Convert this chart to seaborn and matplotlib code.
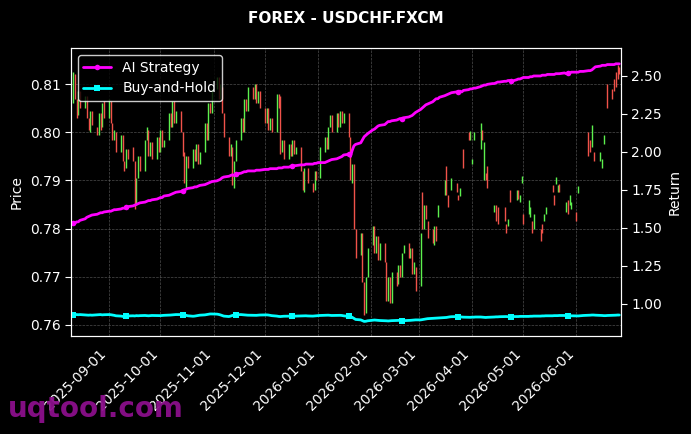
import numpy as np
import pandas as pd
import matplotlib
matplotlib.use('Agg')
import matplotlib.pyplot as plt
import matplotlib.dates as mdates
import seaborn as sns

nan = np.nan

# trading days (Mon-Fri), Aug 11 2025 .. Jun 26 2026
dates = pd.bdate_range('2025-08-11', '2026-06-26')

# daily candle open / close (NaN = no data)
opens = [
    0.8060, 0.8120, 0.8070, 0.8035, 0.8085,
    0.8050, 0.8075, 0.8030, 0.8000, 0.8045,
    0.8010, 0.7995, 0.8040, 0.8010, 0.8065,
    0.8030, 0.8065, 0.8020, 0.7985, 0.8000,
    0.7960, 0.7995, 0.7940, 0.7925, 0.7965,
    0.7970, 0.7940, 0.7850, 0.7905, 0.7950,
    0.7920, 0.7985, 0.8005, 0.7950, 0.7980,
    0.7945, 0.7990, 0.7960, 0.8005, 0.7970,
    0.7985, 0.8040, 0.8010, 0.8065, 0.8020,
    0.8045, 0.8000, 0.7960, 0.7885, 0.7950,
    0.7925, 0.7965, 0.7940, 0.7975, 0.7935,
    0.7960, 0.8020, 0.7985, 0.8060, 0.8040,
    0.8090, 0.8115, 0.8070, 0.8095, 0.8040,
    0.7990, 0.7950, 0.7970, 0.7885, 0.7940,
    0.7985, 0.8030, 0.8000, 0.8070, 0.8045,
    0.8095, 0.8070, 0.8100, 0.8060, 0.8085,
    0.8050, 0.8020, 0.8050, 0.8005, 0.8030,
    0.8000, 0.8080, 0.8075, 0.7960, 0.7985,
    0.7945, 0.7975, 0.7950, 0.7985, 0.7955,
    0.7970, 0.7920, 0.7875, nan, 0.7925,
    0.7895, 0.7880, 0.7920, nan, 0.7905,
    0.7960, 0.7990, 0.7965, 0.8010, 0.8035,
    0.8000, 0.8040, 0.8010, 0.8045, 0.8020,
    0.8040, 0.7990, 0.7895, 0.7935, 0.7800,
    0.7745, 0.7790, 0.7690, 0.7625, 0.7700,
    0.7765, 0.7805, 0.7750, 0.7785, 0.7735,
    0.7770, 0.7730, 0.7650, 0.7700, 0.7645,
    0.7710, 0.7685, 0.7725, 0.7700, 0.7750,
    0.7770, 0.7740, 0.7760, 0.7705, 0.7720,
    0.7680, 0.7875, 0.7800, 0.7850, 0.7815,
    0.7800, 0.7765, 0.7805, 0.7825, nan,
    0.7870, 0.7930, 0.7870, nan, 0.7880,
    0.7895, 0.7870, 0.7868, nan, 0.7965,
    0.8000, 0.7985, 0.7935, 0.7985, nan,
    0.7965, 0.8005, 0.7900, 0.7915, 0.7930,
    nan, 0.7835, 0.7850, 0.7845, nan,
    0.7845, 0.7810, 0.7805, 0.7880, nan,
    0.7860, 0.7880, 0.7855, 0.7895, 0.7830,
    0.7830, 0.7825, 0.7815, 0.7800, nan,
    0.7800, 0.7810, 0.7815, 0.7830, nan,
    0.7890, 0.7870, 0.7893, 0.7875, 0.7892,
    nan, 0.7835, 0.7860, 0.7850, 0.7840,
    0.7835, 0.7873, nan, nan, nan,
    0.8000, 0.7985, 0.7970, 0.7960, nan,
    0.7940, 0.7925, 0.7975, nan, 0.8100,
    0.8090, 0.8110, 0.8125, 0.8140, 0.8135,
]
closes = [
    0.8125, 0.8070, 0.8030, 0.8085, 0.8050,
    0.8075, 0.8030, 0.8005, 0.8045, 0.8015,
    0.7995, 0.8040, 0.8005, 0.8060, 0.8030,
    0.8070, 0.8020, 0.7985, 0.8005, 0.7960,
    0.7995, 0.7940, 0.7920, 0.7965, 0.7945,
    0.7940, 0.7840, 0.7905, 0.7950, 0.7920,
    0.7985, 0.8010, 0.7950, 0.7980, 0.7945,
    0.7990, 0.7960, 0.8005, 0.7970, 0.7985,
    0.8040, 0.8010, 0.8065, 0.8020, 0.8045,
    0.8000, 0.7950, 0.7895, 0.7950, 0.7925,
    0.7965, 0.7940, 0.7975, 0.7935, 0.7960,
    0.8020, 0.7985, 0.8060, 0.8040, 0.8090,
    0.8115, 0.8070, 0.8100, 0.8040, 0.7990,
    0.7950, 0.7975, 0.7890, 0.7940, 0.7985,
    0.8030, 0.8000, 0.8070, 0.8045, 0.8095,
    0.8070, 0.8100, 0.8060, 0.8085, 0.8050,
    0.8020, 0.8050, 0.8005, 0.8030, 0.8000,
    0.8080, 0.8050, 0.7955, 0.7985, 0.7945,
    0.7975, 0.7950, 0.7985, 0.7955, 0.7970,
    0.7920, 0.7880, 0.7925, nan, 0.7895,
    0.7875, 0.7920, 0.7900, nan, 0.7970,
    0.7990, 0.7965, 0.8010, 0.8035, 0.8000,
    0.8040, 0.8010, 0.8045, 0.8020, 0.8040,
    0.7990, 0.7900, 0.7935, 0.7800, 0.7740,
    0.7790, 0.7690, 0.7620, 0.7700, 0.7760,
    0.7805, 0.7750, 0.7785, 0.7735, 0.7770,
    0.7730, 0.7650, 0.7700, 0.7645, 0.7710,
    0.7680, 0.7725, 0.7700, 0.7750, 0.7765,
    0.7740, 0.7760, 0.7705, 0.7730, 0.7670,
    0.7790, 0.7800, 0.7850, 0.7820, 0.7780,
    0.7770, 0.7805, 0.7775, 0.7850, nan,
    0.7900, 0.7870, 0.7845, nan, 0.7905,
    0.7875, 0.7860, 0.7885, nan, 0.7925,
    0.7985, 0.8002, 0.7945, 0.8000, nan,
    0.8020, 0.7985, 0.7980, 0.7900, 0.7885,
    nan, 0.7850, 0.7815, 0.7810, nan,
    0.7815, 0.7790, 0.7820, 0.7855, nan,
    0.7880, 0.7862, 0.7870, 0.7910, 0.7810,
    0.7860, 0.7845, 0.7790, 0.7830, nan,
    0.7775, 0.7790, 0.7830, 0.7845, nan,
    0.7875, 0.7850, 0.7908, 0.7890, 0.7875,
    nan, 0.7855, 0.7830, 0.7870, 0.7855,
    0.7815, 0.7888, nan, nan, nan,
    0.7950, 0.7960, 0.8015, 0.7940, nan,
    0.7960, 0.7945, 0.7995, nan, 0.8050,
    0.8070, 0.8085, 0.8095, 0.8110, 0.8120,
]

# cumulative returns
ai_strategy = [
    1.53, 1.53, 1.54, 1.54, 1.55,
    1.56, 1.57, 1.575, 1.58, 1.585,
    1.59, 1.595, 1.60, 1.60, 1.605,
    1.61, 1.61, 1.615, 1.62, 1.62,
    1.625, 1.63, 1.63, 1.635, 1.64,
    1.645, 1.65, 1.655, 1.66, 1.665,
    1.67, 1.675, 1.68, 1.68, 1.685,
    1.69, 1.695, 1.70, 1.70, 1.71,
    1.715, 1.72, 1.725, 1.73, 1.735,
    1.74, 1.745, 1.75, 1.755, 1.76,
    1.765, 1.77, 1.77, 1.775, 1.78,
    1.785, 1.79, 1.795, 1.80, 1.805,
    1.81, 1.815, 1.82, 1.83, 1.835,
    1.84, 1.845, 1.85, 1.845, 1.855,
    1.86, 1.865, 1.87, 1.87, 1.875,
    1.875, 1.875, 1.88, 1.88, 1.88,
    1.885, 1.885, 1.885, 1.89, 1.89,
    1.89, 1.895, 1.895, 1.895, 1.90,
    1.90, 1.905, 1.905, 1.91, 1.91,
    1.915, 1.915, 1.915, 1.92, 1.92,
    1.92, 1.925, 1.925, 1.93, 1.93,
    1.93, 1.935, 1.94, 1.945, 1.95,
    1.955, 1.96, 1.965, 1.97, 1.98,
    1.985, 1.97, 2.01, 2.04, 2.05,
    2.06, 2.08, 2.10, 2.11, 2.12,
    2.145, 2.15, 2.16, 2.17, 2.175,
    2.18, 2.19, 2.20, 2.20, 2.205,
    2.21, 2.215, 2.22, 2.215, 2.225,
    2.23, 2.235, 2.24, 2.25, 2.26,
    2.28, 2.29, 2.30, 2.31, 2.315,
    2.33, 2.34, 2.35, 2.35, 2.36,
    2.37, 2.375, 2.38, 2.385, 2.39,
    2.395, 2.395, 2.40, 2.395, 2.405,
    2.41, 2.415, 2.415, 2.42, 2.42,
    2.43, 2.435, 2.44, 2.44, 2.445,
    2.45, 2.45, 2.455, 2.46, 2.46,
    2.465, 2.465, 2.47, 2.47, 2.465,
    2.475, 2.48, 2.48, 2.485, 2.49,
    2.49, 2.495, 2.495, 2.50, 2.50,
    2.50, 2.505, 2.505, 2.505, 2.51,
    2.51, 2.51, 2.515, 2.515, 2.515,
    2.52, 2.515, 2.52, 2.52, 2.525,
    2.525, 2.525, 2.53, 2.53, 2.53,
    2.535, 2.535, 2.54, 2.55, 2.56,
    2.565, 2.57, 2.57, 2.57, 2.575,
    2.575, 2.575, 2.58, 2.58, 2.58,
]
buy_and_hold = [
    0.930, 0.931, 0.930, 0.929, 0.930,
    0.928, 0.927, 0.926, 0.927, 0.926,
    0.928, 0.929, 0.930, 0.928, 0.929,
    0.930, 0.929, 0.927, 0.925, 0.922,
    0.920, 0.918, 0.917, 0.919, 0.921,
    0.922, 0.921, 0.923, 0.922, 0.923,
    0.924, 0.923, 0.922, 0.923, 0.924,
    0.923, 0.922, 0.923, 0.924, 0.925,
    0.926, 0.927, 0.928, 0.929, 0.930,
    0.930, 0.929, 0.927, 0.925, 0.922,
    0.919, 0.920, 0.922, 0.924, 0.926,
    0.928, 0.930, 0.932, 0.934, 0.934,
    0.933, 0.931, 0.928, 0.924, 0.920,
    0.917, 0.920, 0.924, 0.927, 0.929,
    0.930, 0.929, 0.928, 0.927, 0.926,
    0.925, 0.924, 0.925, 0.926, 0.927,
    0.928, 0.928, 0.927, 0.925, 0.923,
    0.920, 0.918, 0.917, 0.918, 0.919,
    0.920, 0.921, 0.920, 0.919, 0.920,
    0.921, 0.921, 0.922, 0.922, 0.921,
    0.920, 0.921, 0.922, 0.923, 0.924,
    0.925, 0.926, 0.926, 0.925, 0.924,
    0.925, 0.926, 0.925, 0.924, 0.922,
    0.918, 0.916, 0.912, 0.905, 0.898,
    0.895, 0.890, 0.885, 0.886, 0.889,
    0.893, 0.894, 0.893, 0.892, 0.891,
    0.890, 0.889, 0.888, 0.889, 0.890,
    0.891, 0.891, 0.892, 0.891, 0.890,
    0.891, 0.892, 0.893, 0.894, 0.895,
    0.895, 0.897, 0.899, 0.901, 0.903,
    0.905, 0.906, 0.907, 0.907, 0.908,
    0.909, 0.911, 0.913, 0.915, 0.916,
    0.917, 0.916, 0.915, 0.914, 0.913,
    0.912, 0.912, 0.913, 0.913, 0.914,
    0.914, 0.913, 0.912, 0.911, 0.912,
    0.913, 0.914, 0.915, 0.915, 0.916,
    0.917, 0.917, 0.916, 0.916, 0.917,
    0.917, 0.917, 0.918, 0.918, 0.918,
    0.918, 0.919, 0.919, 0.920, 0.920,
    0.920, 0.921, 0.921, 0.922, 0.922,
    0.922, 0.923, 0.923, 0.923, 0.924,
    0.924, 0.923, 0.923, 0.922, 0.922,
    0.921, 0.921, 0.922, 0.923, 0.924,
    0.925, 0.926, 0.927, 0.927, 0.926,
    0.925, 0.924, 0.923, 0.923, 0.924,
    0.925, 0.926, 0.926, 0.927, 0.927,
]

candles = pd.DataFrame({'date': dates, 'open': opens, 'close': closes}).dropna()
returns = pd.DataFrame({'date': dates, 'ai': ai_strategy, 'bh': buy_and_hold})

plt.style.use('dark_background')
sns.set_style('dark', {'axes.facecolor': 'black', 'figure.facecolor': 'black',
                       'text.color': 'white', 'axes.labelcolor': 'white',
                       'xtick.color': 'white', 'ytick.color': 'white',
                       'axes.edgecolor': 'white'})
plt.rcParams['font.family'] = ['DejaVu Sans']

fig = plt.figure(figsize=(6.91, 4.34), dpi=100)
ax = fig.add_axes([0.1027, 0.2258, 0.796, 0.6636])

# candles drawn as thin bodies
up = candles['close'] >= candles['open']
ax.vlines(candles.loc[up, 'date'], candles.loc[up, 'open'], candles.loc[up, 'close'],
          colors='#5cf04e', linewidth=1.0)
ax.vlines(candles.loc[~up, 'date'], candles.loc[~up, 'open'], candles.loc[~up, 'close'],
          colors='#f0524a', linewidth=1.0)
ax.set_ylim(0.7577, 0.8175)
ax.set_ylabel('Price', color='white')
ax.grid(True, color='gray', linestyle='--', linewidth=0.5, alpha=0.6)

ax2 = ax.twinx()
sns.lineplot(data=returns, x='date', y='ai', ax=ax2, color='#ff00ff', linewidth=2,
             marker='o', markersize=4, markeredgewidth=0, markevery=23, label='AI Strategy')
sns.lineplot(data=returns, x='date', y='bh', ax=ax2, color='#00ffff', linewidth=2,
             marker='s', markersize=4, markeredgewidth=0, markevery=23, label='Buy-and-Hold')
ax2.set_ylim(0.789, 2.684)
ax2.set_ylabel('Return', color='white')
ax2.set_xlabel('')
ax2.grid(False)
ax2.legend(loc='upper left', facecolor='black', edgecolor='white', labelcolor='white')

ax.set_xlim(pd.Timestamp('2025-08-09 18:00'), pd.Timestamp('2026-06-27'))
ax.xaxis.set_major_locator(mdates.MonthLocator())
ax.xaxis.set_major_formatter(mdates.DateFormatter('%Y-%m-%d'))
for lab in ax.get_xticklabels():
    lab.set_rotation(45)
    lab.set_ha('right')
ax.set_xlabel('')

for a in (ax, ax2):
    for s in a.spines.values():
        s.set_color('white')
    a.tick_params(colors='white', which='both', length=4)

fig.suptitle('FOREX - USDCHF.FXCM', color='white', fontweight='bold', fontsize=11, y=0.958, va='center')
fig.text(0.012, 0.04, 'uqtool.com', color='#8b0f8b', fontsize=20, fontweight='bold', alpha=0.95)

fig.savefig('out.png', dpi=100, facecolor='black')
